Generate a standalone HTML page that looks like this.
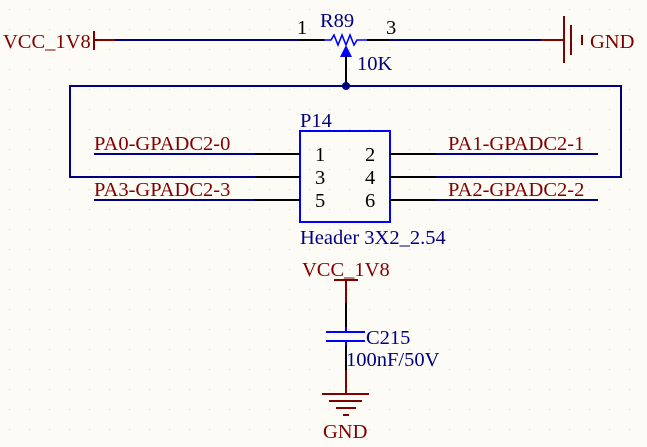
<!DOCTYPE html>
<html><head><style>
html,body{margin:0;padding:0;background:#fdfbf6;}
svg{display:block;}
text{font-family:"Liberation Serif",serif;font-size:20.5px;}
</style></head><body>
<svg width="647" height="447" viewBox="0 0 647 447" xmlns="http://www.w3.org/2000/svg">
<defs><pattern id="g" width="20" height="20" patternUnits="userSpaceOnUse"><rect x="9" y="9" width="1" height="1" fill="#d8d6d0"/></pattern></defs>
<rect width="647" height="447" fill="#fdfbf6"/>
<rect width="647" height="447" fill="url(#g)"/>
<!-- top wire -->
<text x="3" y="48" fill="#800000">VCC_1V8</text>
<line x1="94" y1="31" x2="94" y2="50" stroke="#800000" stroke-width="2"/>
<line x1="94" y1="40" x2="115" y2="40" stroke="#800000" stroke-width="2"/>
<line x1="115" y1="40" x2="300" y2="40" stroke="#000080" stroke-width="2"/>
<line x1="300" y1="40" x2="325" y2="40" stroke="#000" stroke-width="2"/>
<polyline points="323,40 331,40 334,35 338,45 342,35 346,45 350,35 354,45 357,40 369,40" fill="none" stroke="#0000ff" stroke-width="1.6"/>
<line x1="367" y1="40" x2="390" y2="40" stroke="#000" stroke-width="2"/>
<line x1="390" y1="40" x2="541" y2="40" stroke="#000080" stroke-width="2"/>
<line x1="541" y1="40" x2="564" y2="40" stroke="#800000" stroke-width="2"/>
<line x1="564" y1="16" x2="564" y2="63" stroke="#800000" stroke-width="2"/>
<line x1="571" y1="25" x2="571" y2="55" stroke="#800000" stroke-width="2"/>
<line x1="582" y1="35" x2="582" y2="45" stroke="#800000" stroke-width="2"/>
<text x="590" y="48" fill="#800000">GND</text>
<text x="297" y="34" fill="#000">1</text>
<text x="320" y="27" fill="#000080">R89</text>
<text x="386" y="34" fill="#000">3</text>
<polygon points="346,45 340,57 352,57" fill="#0000ff"/>
<line x1="346" y1="55" x2="346" y2="86" stroke="#000" stroke-width="2"/>
<text x="357" y="70" fill="#000080">10K</text>
<circle cx="346" cy="86" r="4" fill="#000080"/>
<!-- loop -->
<polyline points="300,177 70,177 70,86 621,86 621,177 390,177" fill="none" stroke="#000080" stroke-width="2"/>
<!-- header -->
<rect x="300" y="131" width="90" height="91" fill="none" stroke="#0000ff" stroke-width="2"/>
<text x="300" y="127" fill="#000080">P14</text>
<text x="300" y="244" fill="#000080">Header 3X2_2.54</text>
<text x="315" y="161" fill="#000">1</text><text x="365" y="161" fill="#000">2</text>
<text x="315" y="184" fill="#000">3</text><text x="365" y="184" fill="#000">4</text>
<text x="315" y="207" fill="#000">5</text><text x="365" y="207" fill="#000">6</text>
<g stroke-width="2">
<line x1="94" y1="154" x2="255" y2="154" stroke="#000080"/><line x1="255" y1="154" x2="300" y2="154" stroke="#000"/>
<line x1="255" y1="177" x2="300" y2="177" stroke="#000"/>
<line x1="94" y1="200" x2="255" y2="200" stroke="#000080"/><line x1="255" y1="200" x2="300" y2="200" stroke="#000"/>
<line x1="390" y1="154" x2="436" y2="154" stroke="#000"/><line x1="436" y1="154" x2="598" y2="154" stroke="#000080"/>
<line x1="390" y1="177" x2="436" y2="177" stroke="#000"/>
<line x1="390" y1="200" x2="436" y2="200" stroke="#000"/><line x1="436" y1="200" x2="598" y2="200" stroke="#000080"/>
</g>
<text x="94" y="150" fill="#800000">PA0-GPADC2-0</text>
<text x="94" y="196" fill="#800000">PA3-GPADC2-3</text>
<text x="448" y="150" fill="#800000">PA1-GPADC2-1</text>
<text x="448" y="196" fill="#800000">PA2-GPADC2-2</text>
<!-- capacitor -->
<text x="302" y="276" fill="#800000">VCC_1V8</text>
<line x1="334" y1="280" x2="358" y2="280" stroke="#800000" stroke-width="2"/>
<line x1="346" y1="280" x2="346" y2="303" stroke="#800000" stroke-width="2"/>
<line x1="346" y1="303" x2="346" y2="327" stroke="#000" stroke-width="2"/>
<line x1="346" y1="327" x2="346" y2="332" stroke="#0000ff" stroke-width="2"/>
<line x1="326" y1="332" x2="365" y2="332" stroke="#0000ff" stroke-width="2"/>
<line x1="326" y1="341" x2="365" y2="341" stroke="#0000ff" stroke-width="2"/>
<line x1="346" y1="341" x2="346" y2="346" stroke="#0000ff" stroke-width="2"/>
<line x1="346" y1="346" x2="346" y2="370" stroke="#000" stroke-width="2"/>
<line x1="346" y1="370" x2="346" y2="394" stroke="#800000" stroke-width="2"/>
<text x="366" y="344" fill="#000080">C215</text>
<text x="346" y="366" fill="#000080">100nF/50V</text>
<line x1="322" y1="394" x2="369" y2="394" stroke="#800000" stroke-width="2"/>
<line x1="329" y1="401" x2="362" y2="401" stroke="#800000" stroke-width="2"/>
<line x1="336" y1="408" x2="356" y2="408" stroke="#800000" stroke-width="2"/>
<line x1="343" y1="415" x2="349" y2="415" stroke="#800000" stroke-width="2"/>
<text x="323" y="438" fill="#800000">GND</text>
</svg>
</body></html>
